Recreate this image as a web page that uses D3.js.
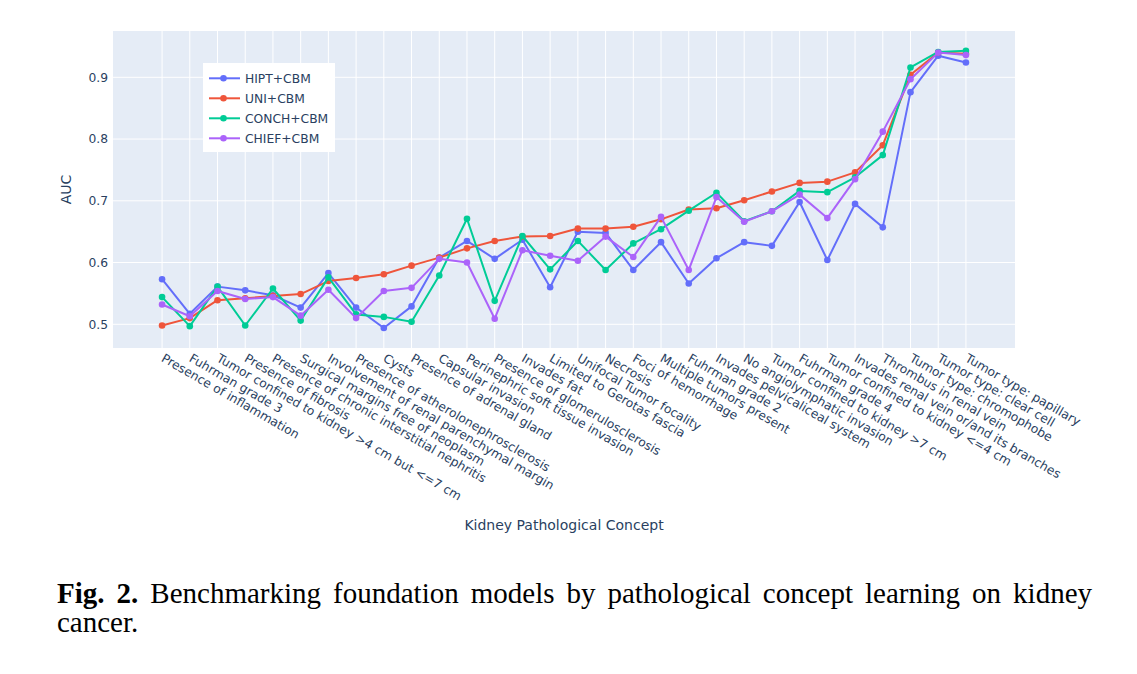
<!DOCTYPE html>
<html>
<head>
<meta charset="utf-8">
<script src="https://cdn.jsdelivr.net/npm/d3@7"></script>
<style>
  body { margin: 0; background: #fff; }
  text { font-family: "DejaVu Sans", Verdana, sans-serif; }
</style>
</head>
<body>
<div id="chart"></div>
<script>
// concepts on the x axis, in plotted order
var concepts = [
  "Presence of inflammation", "Fuhrman grade 3", "Tumor confined to kidney >4 cm but <=7 cm",
  "Presence of fibrosis", "Presence of chronic interstitial nephritis", "Surgical margins free of neoplasm",
  "Involvement of renal parenchymal margin", "Presence of atherolonephrosclerosis", "Cysts",
  "Presence of adrenal gland", "Capsular invasion", "Perinephric soft tissue invasion",
  "Presence of glomerulosclerosis", "Invades fat", "Limited to Gerotas fascia",
  "Unifocal Tumor focality", "Necrosis", "Foci of hemorrhage", "Multiple tumors present",
  "Fuhrman grade 2", "Invades pelvicaliceal system", "No angiolymphatic invasion",
  "Tumor confined to kidney >7 cm", "Fuhrman grade 4", "Tumor confined to kidney <=4 cm",
  "Invades renal vein or/and its branches", "Thrombus in renal vein", "Tumor type: chromophobe",
  "Tumor type: clear cell", "Tumor type: papillary"
];

var hipt  = [0.573, 0.517, 0.561, 0.555, 0.547, 0.527, 0.583, 0.527, 0.494, 0.529, 0.608, 0.635, 0.606, 0.637, 0.560,
             0.650, 0.648, 0.588, 0.633, 0.566, 0.607, 0.633, 0.627, 0.698, 0.604, 0.695, 0.657, 0.876, 0.935, 0.924];
var uni   = [0.498, 0.510, 0.539, 0.542, 0.546, 0.549, 0.570, 0.575, 0.581, 0.595, 0.608, 0.623, 0.635, 0.642, 0.643,
             0.655, 0.655, 0.658, 0.670, 0.686, 0.688, 0.701, 0.715, 0.729, 0.731, 0.746, 0.790, 0.904, 0.940, 0.938];
var conch = [0.544, 0.497, 0.561, 0.498, 0.558, 0.506, 0.576, 0.516, 0.512, 0.504, 0.579, 0.671, 0.538, 0.643, 0.589,
             0.635, 0.588, 0.631, 0.654, 0.684, 0.713, 0.667, 0.683, 0.716, 0.714, 0.738, 0.774, 0.916, 0.941, 0.943];
var chief = [0.532, 0.513, 0.554, 0.541, 0.544, 0.514, 0.556, 0.510, 0.554, 0.559, 0.606, 0.600, 0.509, 0.620, 0.611,
             0.603, 0.642, 0.609, 0.674, 0.588, 0.706, 0.666, 0.683, 0.710, 0.672, 0.735, 0.812, 0.897, 0.940, 0.936];

var seriesNames = ["HIPT+CBM", "UNI+CBM", "CONCH+CBM", "CHIEF+CBM"];
var seriesColors = ["#636efa", "#EF553B", "#00cc96", "#ab63fa"];
var yTicks = [0.5, 0.6, 0.7, 0.8, 0.9];

var series = [hipt, uni, conch, chief].map(function(vals, i) {
  return {name: seriesNames[i], color: seriesColors[i],
          points: vals.map(function(v, j) { return {c: concepts[j], v: v}; })};
});

// plot area
var plot = {left: 113, right: 1015, top: 31, bottom: 348};

var svg = d3.select("#chart")
  .append("svg")
  .attr("width", 1137)
  .attr("height", 674);

svg.append("rect")
  .attr("x", plot.left).attr("y", plot.top)
  .attr("width", plot.right - plot.left)
  .attr("height", plot.bottom - plot.top)
  .attr("fill", "#E5ECF6");

var x = d3.scalePoint()
  .domain(concepts)
  .range([plot.left, plot.right])
  .padding(1.77);

var y = d3.scaleLinear()
  .domain([0.4616, 0.975])
  .range([plot.bottom, plot.top]);

// grid
svg.append("g")
  .selectAll("line.v")
  .data(concepts)
  .join("line")
  .attr("x1", d => x(d)).attr("x2", d => x(d))
  .attr("y1", plot.top).attr("y2", plot.bottom)
  .attr("stroke", "#fff").attr("stroke-width", 1);

svg.append("g")
  .selectAll("line.h")
  .data(yTicks)
  .join("line")
  .attr("x1", plot.left).attr("x2", plot.right)
  .attr("y1", d => y(d)).attr("y2", d => y(d))
  .attr("stroke", "#fff").attr("stroke-width", 1);

// y axis
var yAxis = svg.append("g")
  .attr("transform", "translate(" + (plot.left - 2) + ",0)")
  .call(d3.axisLeft(y).tickValues(yTicks).tickSize(0).tickFormat(d3.format(".1f")));
yAxis.select(".domain").remove();
yAxis.selectAll("text")
  .attr("fill", "#2a3f5f")
  .style("font-size", "12.3px")
  .style("font-family", "DejaVu Sans");

// x axis
var xAxis = svg.append("g")
  .attr("transform", "translate(0," + plot.bottom + ")")
  .call(d3.axisBottom(x).tickSize(0));
xAxis.select(".domain").remove();
xAxis.selectAll("text")
  .attr("fill", "#2a3f5f")
  .style("font-size", "12.3px")
  .style("font-family", "DejaVu Sans")
  .attr("text-anchor", "start")
  .attr("y", 0)
  .attr("dy", "0.35em")
  .attr("transform", "translate(0,9) rotate(30)");

// axis titles
svg.append("text")
  .attr("transform", "translate(71," + ((plot.top + plot.bottom) / 2) + ") rotate(-90)")
  .attr("text-anchor", "middle")
  .attr("fill", "#2a3f5f")
  .style("font-size", "14px")
  .text("AUC");

svg.append("text")
  .attr("x", (plot.left + plot.right) / 2)
  .attr("y", 530)
  .attr("text-anchor", "middle")
  .attr("fill", "#2a3f5f")
  .style("font-size", "14px")
  .text("Kidney Pathological Concept");

// lines + markers
var line = d3.line()
  .x(d => x(d.c))
  .y(d => y(d.v));

var traces = svg.append("g")
  .selectAll("g")
  .data(series)
  .join("g");

traces.append("path")
  .attr("d", d => line(d.points))
  .attr("fill", "none")
  .attr("stroke", d => d.color)
  .attr("stroke-width", 2)
  .attr("stroke-linejoin", "round");

traces.each(function(s) {
  d3.select(this).selectAll("circle")
    .data(s.points)
    .join("circle")
    .attr("cx", d => x(d.c))
    .attr("cy", d => y(d.v))
    .attr("r", 3.3)
    .attr("fill", s.color);
});

// legend
var legend = svg.append("g").attr("transform", "translate(203,63)");
legend.append("rect")
  .attr("width", 132).attr("height", 89)
  .attr("fill", "#fff");

var item = legend.selectAll("g.item")
  .data(series)
  .join("g")
  .attr("transform", (d, i) => "translate(0," + (15.3 + i * 20) + ")");
item.append("line")
  .attr("x1", 6).attr("x2", 37)
  .attr("stroke", d => d.color).attr("stroke-width", 2);
item.append("circle")
  .attr("cx", 20.5).attr("r", 3.3)
  .attr("fill", d => d.color);
item.append("text")
  .attr("x", 42).attr("dy", "0.35em")
  .attr("fill", "#2a3f5f")
  .style("font-size", "12.3px")
  .text(d => d.name);

// caption
var cap1 = svg.append("text")
  .attr("x", 57).attr("y", 603)
  .style("font-family", "'Liberation Serif', 'Times New Roman', serif")
  .style("font-size", "29px")
  .attr("fill", "#000");
cap1.append("tspan").style("font-weight", "bold").text("Fig. 2.");
cap1.append("tspan").text(" Benchmarking foundation models by pathological concept learning on kidney");

var natural = cap1.node().getComputedTextLength();
cap1.style("word-spacing", ((1092 - 57 - natural) / 10) + "px");

svg.append("text")
  .attr("x", 57).attr("y", 632)
  .style("font-family", "'Liberation Serif', 'Times New Roman', serif")
  .style("font-size", "29px")
  .attr("fill", "#000")
  .text("cancer.");
</script>
</body>
</html>
